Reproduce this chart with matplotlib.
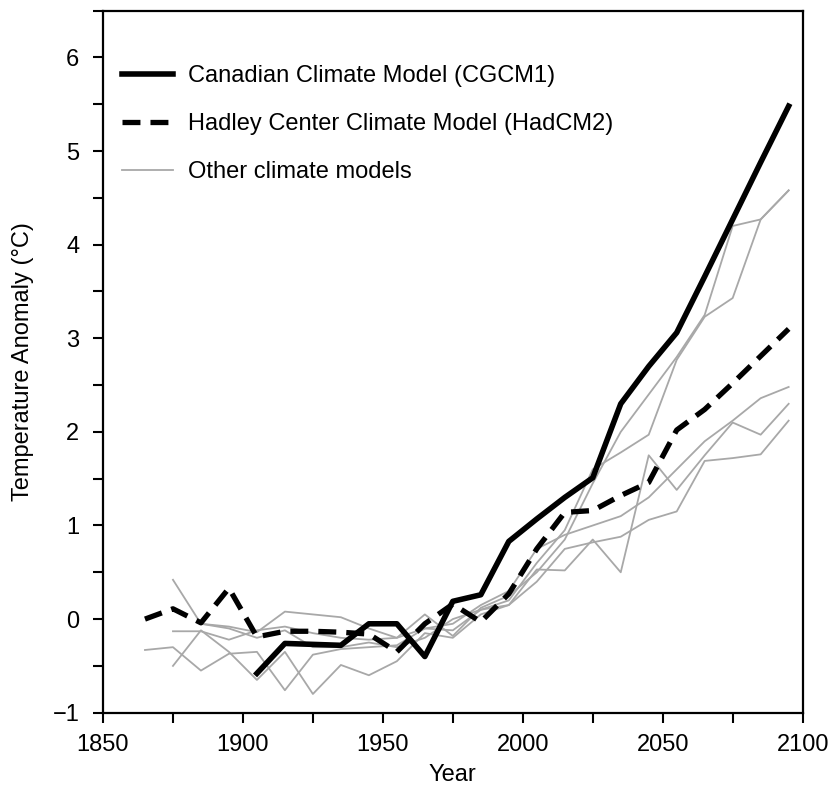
import numpy as np
import matplotlib
matplotlib.use('Agg')
import matplotlib.pyplot as plt
from matplotlib.ticker import MultipleLocator

plt.rcParams['font.family'] = ['Liberation Sans', 'DejaVu Sans']

# model years (decade midpoints)
years = np.arange(1865, 2096, 10)
nan = np.nan

# Canadian Climate Model (CGCM1)
cgcm1 = [nan, nan, nan, nan, -0.58, -0.26, -0.27, -0.28, -0.05, -0.05, -0.40, 0.19,
         0.26, 0.83, 1.07, 1.30, 1.51, 2.30, 2.70, 3.06, 3.66, 4.27, 4.88, 5.48]
# Hadley Center Climate Model (HadCM2)
hadcm2 = [0.00, 0.11, -0.04, 0.33, -0.19, -0.13, -0.13, -0.14, -0.16, -0.35, -0.05, 0.16,
          -0.03, 0.27, 0.75, 1.14, 1.16, 1.32, 1.46, 2.02, 2.24, 2.52, 2.81, 3.10]

# other climate models
other_a = [nan, -0.13, -0.13, -0.22, -0.12, -0.08, -0.15, -0.20, -0.22, -0.20, -0.10, -0.12,
           0.10, 0.20, 0.60, 0.95, 1.60, 1.78, 1.97, 2.77, 3.23, 3.43, 4.27, 4.58]
other_b = [nan, 0.42, -0.05, -0.08, -0.14, 0.08, 0.05, 0.02, -0.10, -0.20, 0.05, -0.18,
           0.12, 0.25, 0.50, 0.85, 1.45, 2.00, 2.40, 2.80, 3.25, 4.20, 4.27, 4.58]
other_c = [-0.33, -0.30, -0.55, -0.37, -0.35, -0.76, -0.38, -0.32, -0.30, -0.28, -0.10, -0.05,
           0.15, 0.30, 0.75, 0.90, 1.00, 1.10, 1.30, 1.60, 1.90, 2.12, 2.36, 2.48]
other_d = [nan, -0.50, -0.12, -0.35, -0.65, -0.35, -0.80, -0.49, -0.60, -0.45, -0.15, -0.20,
           0.05, 0.15, 0.53, 0.52, 0.85, 0.50, 1.75, 1.38, 1.75, 2.10, 1.97, 2.30]
other_e = [nan, nan, -0.05, -0.10, -0.20, -0.12, -0.30, -0.30, -0.25, -0.30, -0.20, 0.00,
           0.10, 0.15, 0.40, 0.75, 0.82, 0.88, 1.06, 1.15, 1.69, 1.72, 1.76, 2.12]
others = [other_a, other_b, other_c, other_d, other_e]

fig = plt.figure(figsize=(8.36, 7.85), dpi=100)
ax = fig.add_axes([0.1232, 0.0921, 0.8369, 0.8943])

for i, o in enumerate(others):
    ax.plot(years, o, color='#a8a8a8', lw=1.3,
            label='Other climate models' if i == 0 else None, zorder=2)
ax.plot(years, hadcm2, color='black', lw=3.8, ls=(0, (3.4, 1.9)),
        label='Hadley Center Climate Model (HadCM2)', zorder=3)
ax.plot(years, cgcm1, color='black', lw=4.0,
        label='Canadian Climate Model (CGCM1)', zorder=4)

ax.set_xlim(1850, 2100)
ax.set_ylim(-1, 6.5)
ax.xaxis.set_major_locator(MultipleLocator(50))
ax.xaxis.set_minor_locator(MultipleLocator(25))
ax.yaxis.set_major_locator(MultipleLocator(1))
ax.yaxis.set_minor_locator(MultipleLocator(0.5))
ax.tick_params(which='both', direction='out', length=7, width=1.5, labelsize=17)
ax.tick_params(axis='y', pad=10)
ax.tick_params(axis='x', pad=8)
for s in ax.spines.values():
    s.set_linewidth(1.6)

ax.set_xlabel('Year', fontsize=17, labelpad=6)
ax.set_ylabel('Temperature Anomaly (°C)', fontsize=17, labelpad=13)

h, l = ax.get_legend_handles_labels()
order = [2, 1, 0]
ax.legend([h[k] for k in order], [l[k] for k in order], loc='upper left',
          bbox_to_anchor=(0.027, 0.922), frameon=False, fontsize=17,
          handlelength=2.17, handletextpad=0.61, labelspacing=1.09,
          borderpad=0, borderaxespad=0)

fig.savefig('out.png', dpi=100)
